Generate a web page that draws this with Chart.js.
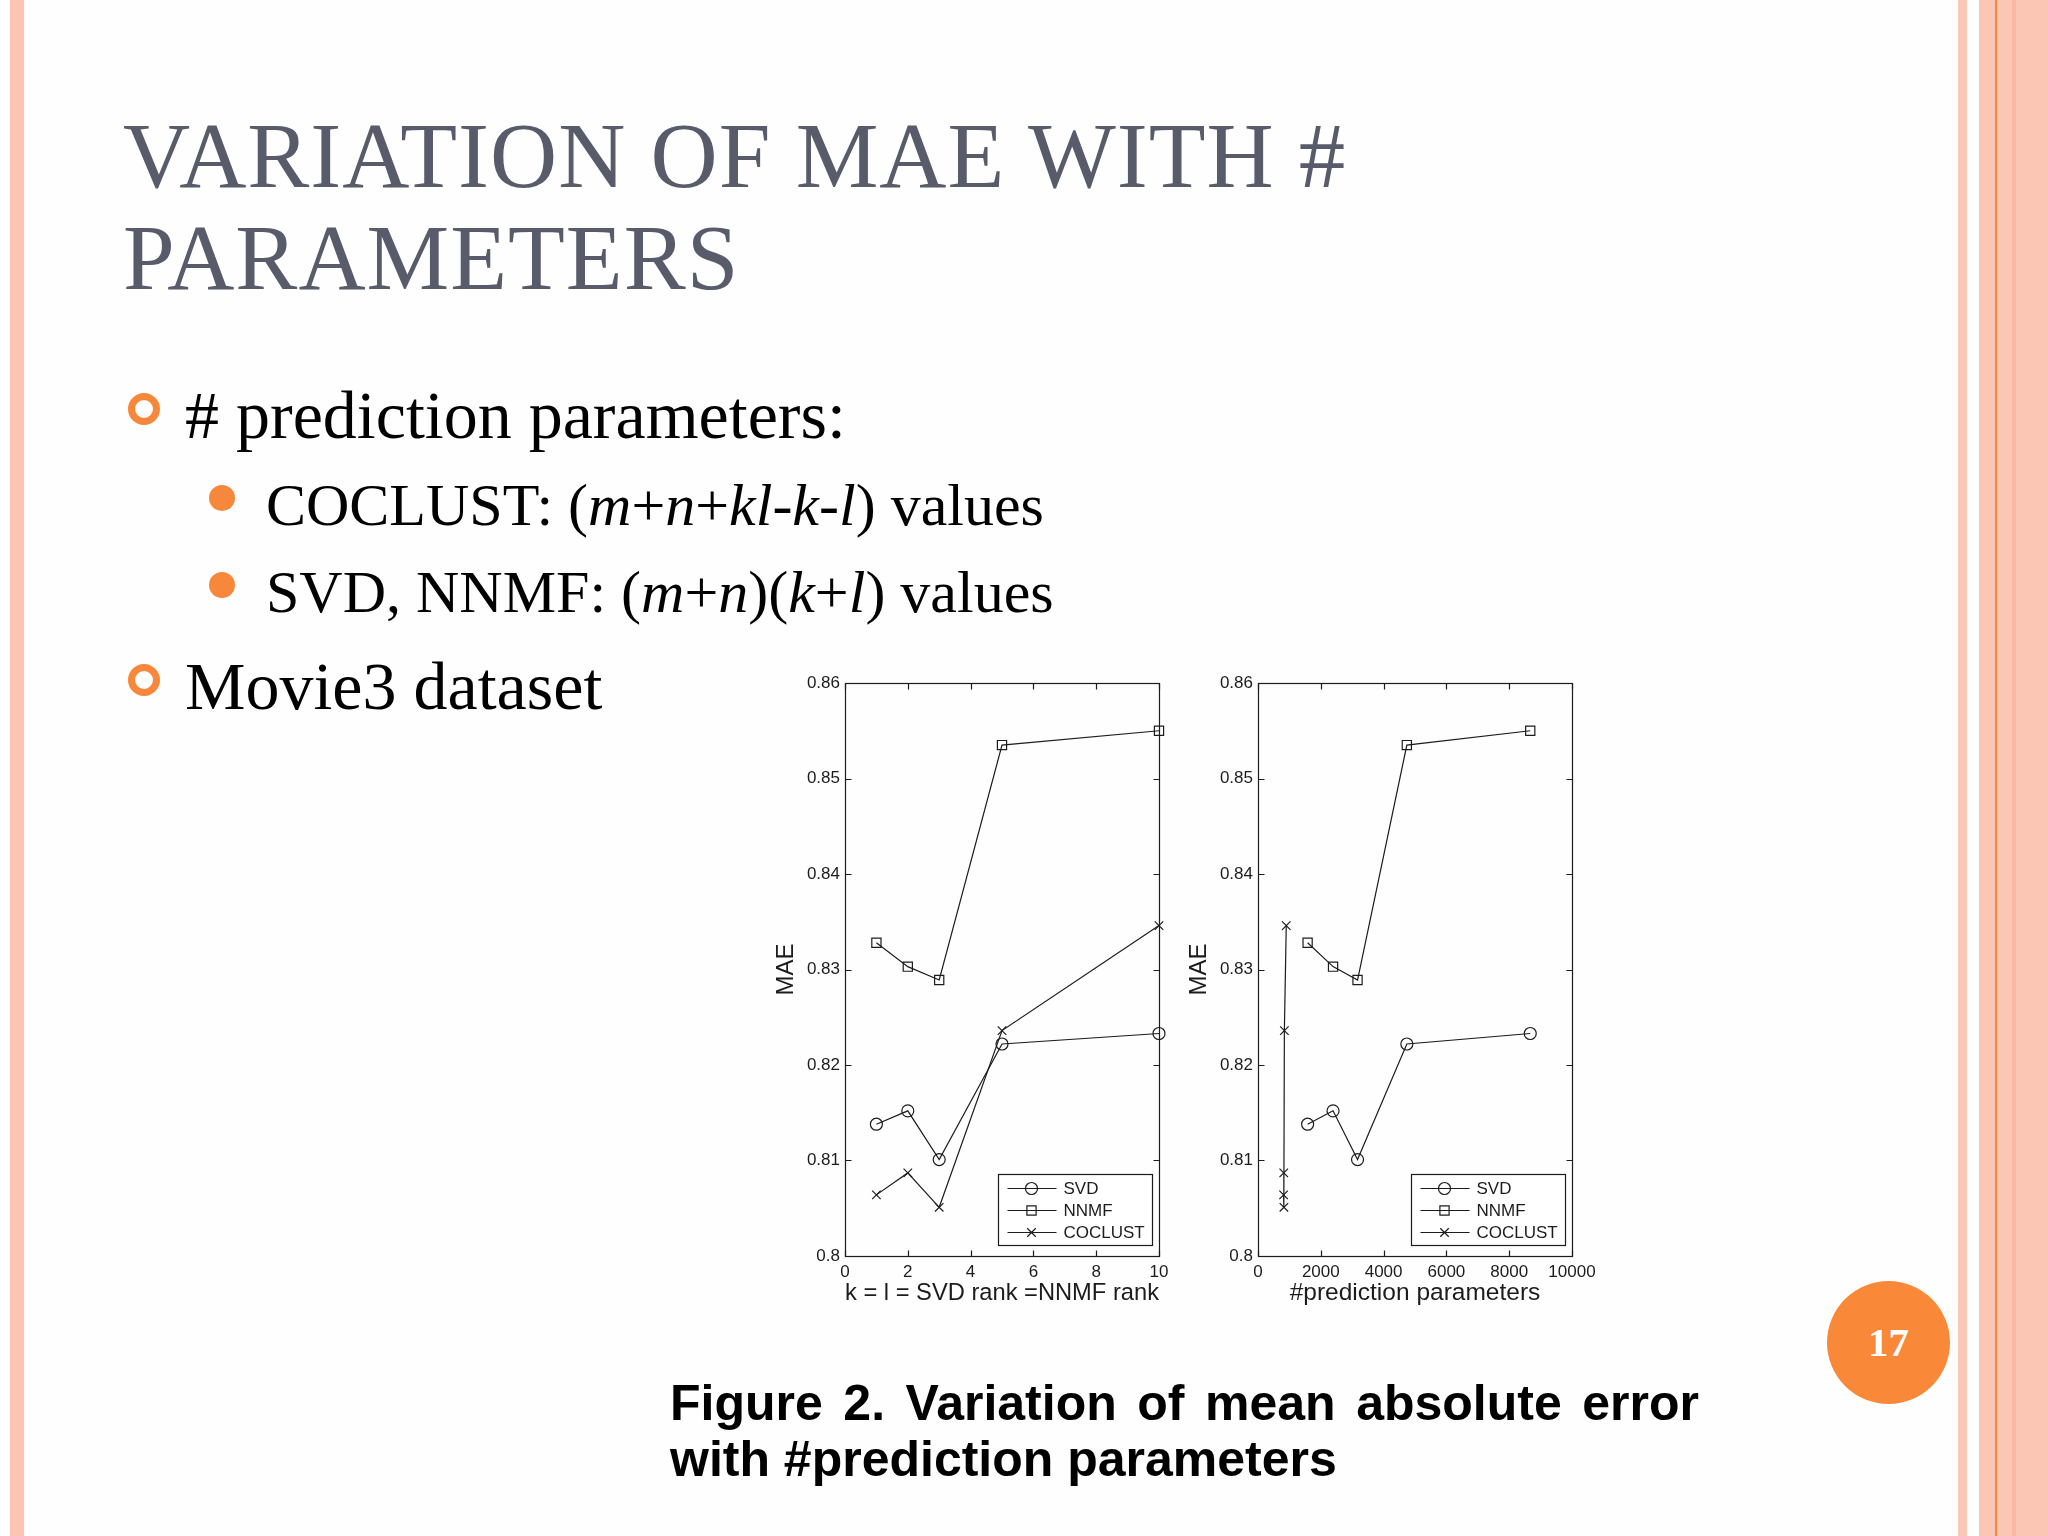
<!DOCTYPE html>
<html>
<head>
<meta charset="utf-8">
<script src="https://cdn.jsdelivr.net/npm/chart.js@4.4.1/dist/chart.umd.min.js"></script>
<style>
html,body{margin:0;padding:0;}
body{width:2048px;height:1536px;position:relative;background:#fefefe;overflow:hidden;}
.abs{position:absolute;white-space:nowrap;}
.stripe{position:absolute;top:0;height:1536px;}
.title{left:123px;top:105px;font-family:"Liberation Serif","Times New Roman",serif;font-size:93px;line-height:102px;color:#585c6a;letter-spacing:1px;}
.b1{font-family:"Liberation Serif","Times New Roman",serif;font-size:68px;line-height:68px;color:#000;}
.b2{font-family:"Liberation Serif","Times New Roman",serif;font-size:60px;line-height:60px;color:#000;}
.ring{position:absolute;width:32px;height:32px;box-sizing:border-box;border:7px solid #f7873a;border-radius:50%;}
.dot{position:absolute;width:26px;height:26px;border-radius:50%;background:#f7873a;}
.cap{font-family:"Liberation Sans",Arial,sans-serif;font-weight:bold;font-size:50px;line-height:56px;color:#000;}
.chartbox{position:absolute;top:663px;width:440px;height:660px;}
.pnum{position:absolute;left:1827px;top:1281px;width:123px;height:123px;border-radius:50%;background:#f98838;color:#fff;font-family:"Liberation Serif","Times New Roman",serif;font-weight:bold;font-size:41px;line-height:123px;text-align:center;}
</style>
</head>
<body>
<div class="stripe" style="left:10px;width:14px;background:#fbc4b3;"></div>
<div class="stripe" style="left:1958px;width:9px;background:#fbc7b7;"></div>
<div class="stripe" style="left:1979px;width:69px;background:#fcc6b4;"></div>
<div class="stripe" style="left:1995px;width:2px;background:#f3874a;"></div>
<div class="stripe" style="left:2012px;width:4px;background:#f8b9a2;"></div>

<div class="abs title">VARIATION OF MAE WITH #<br>PARAMETERS</div>

<div class="ring" style="left:128px;top:393px;"></div>
<div class="abs b1" style="left:185px;top:381px;"># prediction parameters:</div>
<div class="dot" style="left:209px;top:485px;"></div>
<div class="abs b2" style="left:266px;top:475px;">COCLUST: (<i>m</i>+<i>n</i>+<i>kl</i>-<i>k</i>-<i>l</i>) values</div>
<div class="dot" style="left:209px;top:572px;"></div>
<div class="abs b2" style="left:266px;top:562px;">SVD, NNMF: (<i>m</i>+<i>n</i>)(<i>k</i>+<i>l</i>) values</div>
<div class="ring" style="left:128px;top:664px;"></div>
<div class="abs b1" style="left:185px;top:652px;">Movie3 dataset</div>

<div class="chartbox" style="left:760px;"><canvas id="c1" width="440" height="660"></canvas></div>
<div class="chartbox" style="left:1173px;"><canvas id="c2" width="440" height="660"></canvas></div>

<div class="abs cap" style="left:670px;top:1375px;width:1029px;text-align:justify;text-align-last:justify;">Figure 2. Variation of mean absolute error</div>
<div class="abs cap" style="left:670px;top:1431px;">with #prediction parameters</div>

<div class="pnum">17</div>

<script>
// ---- data ----
const ranks = [1, 2, 3, 5, 10];
const svdMAE = [0.8138, 0.8152, 0.8101, 0.8222, 0.8233];
const nnmfMAE = [0.8328, 0.8303, 0.8289, 0.8535, 0.8550];
const coclustMAE = [0.8064, 0.8087, 0.8051, 0.8236, 0.8346];
const svdNnmfParams = [1580, 2390, 3170, 4740, 8670];
const coclustParams = [815, 820, 825, 840, 900];
const seriesNames = ['SVD', 'NNMF', 'COCLUST'];
const yTitle = 'MAE';
const xTitleLeft = 'k = l = SVD rank =NNMF rank';
const xTitleRight = '#prediction parameters';

const FONT = '"Liberation Sans", Arial, sans-serif';
const INK = '#1c1c1c';

function pts(xs, ys) { return xs.map((x, i) => ({ x: x, y: ys[i] })); }

function marker(ctx, style, x, y, r) {
  ctx.beginPath();
  if (style === 'circle') {
    ctx.arc(x, y, r, 0, Math.PI * 2);
  } else if (style === 'rect') {
    const s = r * Math.SQRT1_2;
    ctx.rect(x - s, y - s, 2 * s, 2 * s);
  } else {
    const s = r * Math.SQRT1_2;
    ctx.moveTo(x - s, y - s); ctx.lineTo(x + s, y + s);
    ctx.moveTo(x - s, y + s); ctx.lineTo(x + s, y - s);
  }
  ctx.stroke();
}

const matlabFrame = {
  id: 'matlabFrame',
  afterDraw(chart) {
    const ctx = chart.ctx, a = chart.chartArea;
    ctx.save();
    ctx.strokeStyle = INK;
    ctx.lineWidth = 1.2;
    const L = Math.round(a.left) + 0.5, T = Math.round(a.top) + 0.5;
    const R = Math.round(a.right) + 0.5, B = Math.round(a.bottom) + 0.5;
    ctx.strokeRect(L, T, R - L, B - T);
    const tl = 6;
    ctx.beginPath();
    chart.scales.x.ticks.forEach(t => {
      const p = Math.round(chart.scales.x.getPixelForValue(t.value)) + 0.5;
      ctx.moveTo(p, B); ctx.lineTo(p, B - tl);
      ctx.moveTo(p, T); ctx.lineTo(p, T + tl);
    });
    chart.scales.y.ticks.forEach(t => {
      const p = Math.round(chart.scales.y.getPixelForValue(t.value)) + 0.5;
      ctx.moveTo(L, p); ctx.lineTo(L + tl, p);
      ctx.moveTo(R, p); ctx.lineTo(R - tl, p);
    });
    ctx.stroke();

    // legend box (line + marker, as in the original)
    const w = 154, h = 71;
    const bx = Math.round(a.right - 7 - w) + 0.5, by = Math.round(a.bottom - 11 - h) + 0.5;
    ctx.fillStyle = '#fff';
    ctx.fillRect(bx, by, w, h);
    ctx.strokeRect(bx, by, w, h);
    ctx.font = '17px ' + FONT;
    ctx.textBaseline = 'middle';
    ctx.textAlign = 'left';
    chart.data.datasets.forEach((ds, i) => {
      const yy = by + 14 + i * 22;
      ctx.strokeStyle = INK;
      ctx.lineWidth = 1.2;
      ctx.beginPath();
      ctx.moveTo(bx + 9, yy); ctx.lineTo(bx + 58, yy);
      ctx.stroke();
      marker(ctx, ds.pointStyle, bx + 33, yy, ds.pointRadius);
      ctx.fillStyle = INK;
      ctx.fillText(ds.label, bx + 65, yy + 1);
    });
    ctx.restore();
  }
};

function makeChart(id, xsSvd, xsNnmf, xsCo, xMax, xStep, xTitle) {
  const base = {
    borderColor: INK, borderWidth: 1.2, pointBorderColor: INK,
    pointBackgroundColor: 'rgba(0,0,0,0)', pointBorderWidth: 1.2,
    tension: 0, fill: false, clip: false
  };
  new Chart(document.getElementById(id), {
    type: 'line',
    data: {
      datasets: [
        Object.assign({}, base, { label: seriesNames[0], data: pts(xsSvd, svdMAE), pointStyle: 'circle', pointRadius: 6 }),
        Object.assign({}, base, { label: seriesNames[1], data: pts(xsNnmf, nnmfMAE), pointStyle: 'rect', pointRadius: 6.5 }),
        Object.assign({}, base, { label: seriesNames[2], data: pts(xsCo, coclustMAE), pointStyle: 'crossRot', pointRadius: 6 })
      ]
    },
    options: {
      responsive: false, animation: false, devicePixelRatio: 1,
      layout: { padding: { top: 20, right: 41, left: 0, bottom: 0 } },
      plugins: { legend: { display: false }, tooltip: { enabled: false } },
      scales: {
        x: {
          type: 'linear', min: 0, max: xMax,
          ticks: { stepSize: xStep, padding: 6, maxRotation: 0, autoSkip: false, color: INK,
                   font: { family: FONT, size: 17 }, callback: v => String(v) },
          grid: { display: false, drawTicks: false },
          border: { display: false },
          title: { display: true, text: xTitle, color: INK, font: { family: FONT, size: 24.5 }, padding: { top: 0, bottom: 15 } },
          afterFit: s => { s.height = 67; }
        },
        y: {
          type: 'linear', min: 0.8, max: 0.86,
          ticks: { stepSize: 0.01, padding: 5, color: INK, font: { family: FONT, size: 17 },
                   callback: v => String(+v.toFixed(2)) },
          grid: { display: false, drawTicks: false },
          border: { display: false },
          title: { display: true, text: yTitle, color: INK, font: { family: FONT, size: 24 }, padding: { top: 12, bottom: 0 } },
          afterFit: s => { s.width = 85; }
        }
      }
    },
    plugins: [matlabFrame]
  });
}

makeChart('c1', ranks, ranks, ranks, 10, 2, xTitleLeft);
makeChart('c2', svdNnmfParams, svdNnmfParams, coclustParams, 10000, 2000, xTitleRight);
</script>
</body>
</html>
